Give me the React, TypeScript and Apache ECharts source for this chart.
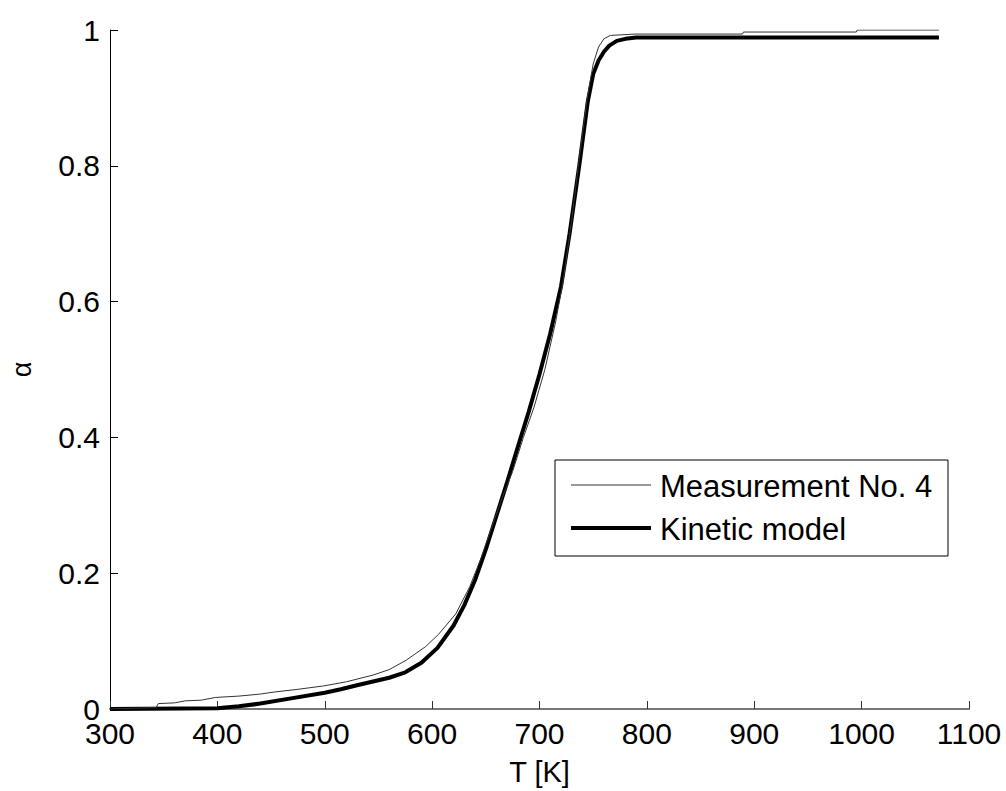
import React, { useEffect, useRef } from "react";
import * as echarts from "echarts";

const measurementT = [300, 320, 343, 345, 360, 370, 385, 398, 420, 440, 453, 475, 499, 520, 545, 560, 576, 594, 606, 622, 635, 645, 655, 665, 675, 685, 695, 705, 715, 722, 730, 737, 744, 750, 755, 760, 766, 789, 889, 890, 995, 996, 1072];
const measurementA = [0, 0.001, 0.002, 0.008, 0.009, 0.012, 0.013, 0.017, 0.019, 0.022, 0.025, 0.029, 0.034, 0.04, 0.05, 0.058, 0.072, 0.092, 0.11, 0.14, 0.18, 0.22, 0.265, 0.31, 0.35, 0.4, 0.445, 0.5, 0.57, 0.63, 0.72, 0.81, 0.895, 0.95, 0.975, 0.987, 0.992, 0.994, 0.994, 0.997, 0.997, 1.0, 1.0];

const kineticT = [300, 400, 420, 440, 470, 500, 515, 530, 560, 575, 590, 605, 620, 630, 640, 650, 660, 670, 680, 690, 700, 710, 720, 728, 737, 745, 750, 755, 760, 765, 772, 780, 790, 1072];
const kineticA = [0, 0.001, 0.004, 0.008, 0.016, 0.024, 0.029, 0.035, 0.046, 0.054, 0.068, 0.09, 0.123, 0.153, 0.19, 0.235, 0.285, 0.335, 0.387, 0.438, 0.493, 0.553, 0.622, 0.7, 0.8, 0.895, 0.935, 0.955, 0.968, 0.977, 0.984, 0.987, 0.989, 0.989];

const xTicks = [300, 400, 500, 600, 700, 800, 900, 1000, 1100];
const yTicks = [0, 0.2, 0.4, 0.6, 0.8, 1];
const legendNames = ["Measurement No. 4", "Kinetic model"];

const FONT = "Liberation Sans, Arial, sans-serif";

export default function App() {
  const ref = useRef<HTMLDivElement>(null);
  useEffect(() => {
    if (!ref.current) return;
    const chart = echarts.init(ref.current, undefined, { renderer: "svg" });
    chart.setOption({
      animation: false,
      backgroundColor: "#fff",
      textStyle: { fontFamily: FONT },
      grid: { left: 101, right: 37, top: 30, bottom: 78 },
      xAxis: {
        type: "value",
        min: 300,
        max: 1100,
        interval: 100,
        name: "T [K]",
        nameLocation: "middle",
        nameGap: 48,
        nameTextStyle: { fontSize: 29, color: "#000", fontFamily: FONT },
        axisLine: { lineStyle: { color: "#777", width: 2 } },
        axisTick: { inside: true, length: 8, lineStyle: { color: "#333" } },
        axisLabel: {
          fontSize: 30,
          color: "#000",
          margin: 9,
          fontFamily: FONT,
          formatter: (v: number) => (xTicks.includes(v) ? String(v) : ""),
        },
        splitLine: { show: false },
      },
      yAxis: {
        type: "value",
        min: 0,
        max: 1,
        interval: 0.2,
        name: "α",
        nameLocation: "middle",
        nameRotate: 90,
        nameGap: 75,
        nameTextStyle: { fontSize: 27, color: "#000", fontFamily: FONT },
        axisLine: { show: true, lineStyle: { color: "#000", width: 1 } },
        axisTick: { show: true, inside: true, length: 8, lineStyle: { color: "#000" } },
        axisLabel: {
          fontSize: 30,
          color: "#000",
          margin: 10,
          fontFamily: FONT,
          formatter: (v: number) => {
            const t = yTicks.find((y) => Math.abs(y - v) < 1e-9);
            return t === undefined ? "" : String(t);
          },
        },
        splitLine: { show: false },
      },
      graphic: [
        {
          type: "rect",
          shape: { x: 555, y: 460, width: 393, height: 96 },
          style: { fill: "#fff", stroke: "#000", lineWidth: 1 },
          z: 10,
        },
        {
          type: "line",
          shape: { x1: 571, y1: 485, x2: 651, y2: 485 },
          style: { stroke: "#333", lineWidth: 1 },
          z: 11,
        },
        {
          type: "line",
          shape: { x1: 571, y1: 528, x2: 651, y2: 528 },
          style: { stroke: "#000", lineWidth: 4 },
          z: 11,
        },
        {
          type: "text",
          x: 660,
          y: 486,
          style: {
            text: legendNames[0],
            fontSize: 31,
            fontFamily: FONT,
            fill: "#000",
            verticalAlign: "middle",
          },
          z: 11,
        },
        {
          type: "text",
          x: 660,
          y: 529,
          style: {
            text: legendNames[1],
            fontSize: 31,
            fontFamily: FONT,
            fill: "#000",
            verticalAlign: "middle",
          },
          z: 11,
        },
      ],
      series: [
        {
          name: legendNames[1],
          type: "line",
          data: kineticT.map((t, i) => [t, kineticA[i]]),
          symbol: "none",
          lineStyle: { color: "#000", width: 4 },
          z: 2,
        },
        {
          name: legendNames[0],
          type: "line",
          data: measurementT.map((t, i) => [t, measurementA[i]]),
          symbol: "none",
          lineStyle: { color: "#333", width: 1 },
          z: 3,
        },
      ],
    });
    return () => chart.dispose();
  }, []);
  return (
    <div
      ref={ref}
      style={{ position: "fixed", left: 0, top: 0, width: 1006, height: 791 }}
    />
  );
}
